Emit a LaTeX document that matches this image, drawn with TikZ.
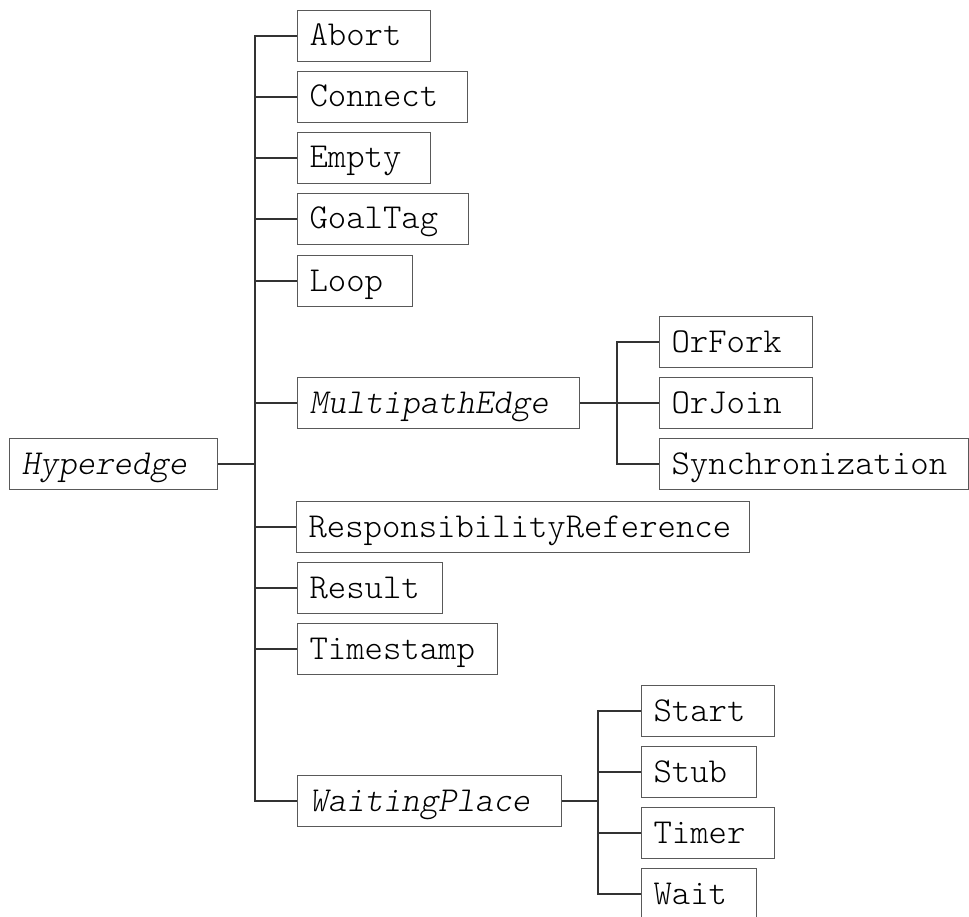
\documentclass[tikz,border=0pt]{standalone}
\usepackage{fontspec}
\newfontfamily\lmlight{lmmonolt10-regular}[Extension=.otf, ItalicFont=lmmonolt10-oblique]
\begin{document}
\begin{tikzpicture}[x=1pt,y=-1pt,
  box/.style={draw=black!65, line width=1.2pt, anchor=west, minimum height=51pt,
    inner xsep=12pt, inner ysep=0pt, align=left, text height=20pt, text depth=0pt,
    font=\lmlight\fontsize{35}{36}\selectfont},
  ibox/.style={box, font=\lmlight\fontsize{35}{36}\selectfont\itshape},
  conn/.style={draw=black!80, line width=1.2pt}]
\useasboundingbox (0,0) rectangle (969,917);
% root
\node[ibox, text width=184pt] (hyp) at (9,464) {Hyperedge};
% first level
\node[box, text width=109pt] (abort) at (297,36) {Abort};
\node[box, text width=146pt] (connect) at (297,97) {Connect};
\node[box, text width=109pt] (empty) at (297,158) {Empty};
\node[box, text width=147pt] (goaltag) at (297,219) {GoalTag};
\node[box, text width=91pt] (loop) at (297,281) {Loop};
\node[ibox, text width=258pt] (mpe) at (297,403) {MultipathEdge};
\node[box, text width=429pt] (resp) at (296,527) {ResponsibilityReference};
\node[box, text width=121pt] (result) at (297,588) {Result};
\node[box, text width=176pt] (timestamp) at (297,649) {Timestamp};
\node[ibox, text width=240pt] (wp) at (297,801) {WaitingPlace};
% MultipathEdge children
\node[box, text width=129pt] (orfork) at (659,342) {OrFork};
\node[box, text width=129pt] (orjoin) at (659,403) {OrJoin};
\node[box, text width=285pt] (sync) at (659,464) {Synchronization};
% WaitingPlace children
\node[box, text width=109pt] (start) at (641,711) {Start};
\node[box, text width=91pt] (stub) at (641,772) {Stub};
\node[box, text width=109pt] (timer) at (641,833) {Timer};
\node[box, text width=91pt] (wait) at (641,894) {Wait};
% trunks
\coordinate (t) at (255,464);
\coordinate (tm) at (617,403);
\coordinate (tw) at (598,801);
% root connectors
\draw[conn] (hyp.east) -- (t);
\draw[conn] (abort.west) -- (abort.west -| t) -- (wp.west -| t) -- (wp.west);
\foreach \n in {connect,empty,goaltag,loop,mpe,resp,result,timestamp}
  \draw[conn] (\n.west) -- (\n.west -| t);
% MultipathEdge connectors
\draw[conn] (mpe.east) -- (tm);
\draw[conn] (orfork.west) -- (orfork.west -| tm) -- (sync.west -| tm) -- (sync.west);
\draw[conn] (orjoin.west) -- (orjoin.west -| tm);
% WaitingPlace connectors
\draw[conn] (wp.east) -- (tw);
\draw[conn] (start.west) -- (start.west -| tw) -- (wait.west -| tw) -- (wait.west);
\draw[conn] (stub.west) -- (stub.west -| tw);
\draw[conn] (timer.west) -- (timer.west -| tw);
\end{tikzpicture}
\end{document}
